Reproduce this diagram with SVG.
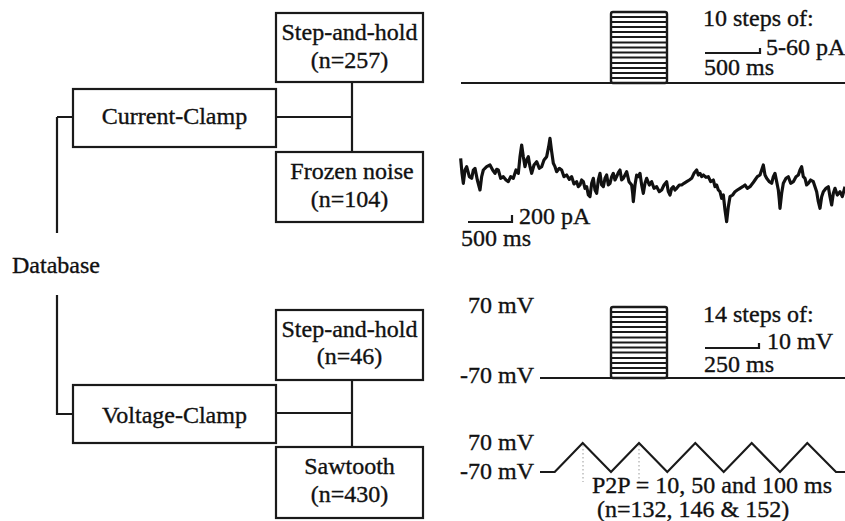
<svg xmlns="http://www.w3.org/2000/svg" width="845" height="521" viewBox="0 0 845 521">
<style>
  .box{fill:#fff;stroke:#1a1a1a;stroke-width:2.2}
  .ln{fill:none;stroke:#1a1a1a;stroke-width:2.2}
  .t{font-family:"Liberation Serif","Times New Roman",serif;font-size:24px;fill:#111;stroke:#111;stroke-width:0.35}
  .c{text-anchor:middle}
  .st{stroke:#1a1a1a;stroke-width:1.9}
</style>
<rect width="845" height="521" fill="#fff"/>
<g id="connectors" class="ln">
  <path d="M57,117 H73 M57,117 V233"/>
  <path d="M57,295 V414 H73"/>
  <path d="M276,117 H352 M352,82 V152"/>
  <path d="M276,413 H352 M352,380 V447"/>
</g>
<g id="database"><text class="t" x="12" y="273">Database</text></g>
<g id="current-clamp"><rect class="box" x="73" y="89" width="203" height="58"/><text class="t c" x="174.5" y="124">Current-Clamp</text></g>
<g id="cc-step"><rect class="box" x="276" y="13" width="147" height="69"/><text class="t c" x="349.5" y="40">Step-and-hold</text><text class="t c" x="349.5" y="68">(n=257)</text></g>
<g id="cc-noise"><rect class="box" x="276" y="152" width="147" height="70"/><text class="t c" x="352" y="179">Frozen noise</text><text class="t c" x="349.5" y="207">(n=104)</text></g>
<g id="voltage-clamp"><rect class="box" x="73" y="385" width="203" height="58"/><text class="t c" x="174.5" y="423">Voltage-Clamp</text></g>
<g id="vc-step"><rect class="box" x="276" y="310" width="147" height="70"/><text class="t c" x="349.5" y="337">Step-and-hold</text><text class="t c" x="349.5" y="364">(n=46)</text></g>
<g id="vc-saw"><rect class="box" x="276" y="447" width="147" height="71"/><text class="t c" x="349.5" y="474">Sawtooth</text><text class="t c" x="349.5" y="502">(n=430)</text></g>

<g id="trace-cc-step">
  <path class="ln" d="M461,83 H845"/>
  <rect x="611" y="12" width="56" height="71" rx="2" fill="none" stroke="#1a1a1a" stroke-width="2.4"/>
  <path class="st" d="M611,17 H667 M611,22 H667 M611,27 H667 M611,32 H667 M611,37 H667 M611,42.5 H667 M611,47.5 H667 M611,52.5 H667 M611,57.5 H667 M611,63 H667 M611,68 H667 M611,73 H667 M611,78 H667"/>
  <text class="t" x="703" y="26">10 steps of:</text>
  <path class="ln" d="M705,53 H760 V48" stroke-width="1.6"/>
  <text class="t" x="766" y="55">5-60 pA</text>
  <text class="t" x="704" y="75">500 ms</text>
</g>
<g id="trace-cc-noise">
  <g transform="translate(440,120) scale(0.33333)">
  <path fill="none" stroke="#111" stroke-width="9.5" stroke-linejoin="round" d="M62,115 L66,160 L70,190 L75,150 L80,140 L88,170 L95,175 L100,150 L105,145 L112,180 L120,210 L125,170 L130,150 L140,140 L150,135 L158,150 L165,160 L170,148 L175,150 L182,175 L190,170 L198,180 L205,185 L212,170 L220,175 L228,150 L235,160 L240,110 L245,75 L250,110 L255,140 L260,120 L265,110 L270,140 L275,160 L282,135 L290,125 L298,145 L305,140 L312,120 L320,110 L326,80 L330,55 L335,95 L340,130 L345,140 L350,155 L358,145 L365,150 L372,170 L380,165 L388,178 L395,170 L402,192 L410,185 L415,200 L420,195 L425,180 L430,185 L435,205 L440,200 L445,225 L450,230 L455,190 L460,175 L465,210 L470,220 L475,180 L480,160 L485,195 L490,200 L495,175 L500,165 L505,195 L510,190 L515,170 L520,160 L525,180 L530,170 L535,158 L540,150 L545,180 L550,175 L555,165 L560,155 L567,185 L575,195 L578,220 L580,245 L585,195 L590,165 L595,170 L600,160 L605,195 L610,220 L615,190 L620,175 L628,195 L635,185 L642,205 L650,200 L658,215 L665,210 L672,195 L680,185 L685,215 L690,225 L695,205 L700,200 L705,210 L710,205 L718,195 L725,195 L732,190 L740,185 L748,180 L755,175 L762,160 L770,150 L775,165 L780,160 L785,170 L790,165 L798,172 L805,170 L812,185 L820,180 L825,200 L830,195 L835,210 L840,215 L845,235 L850,225 L855,270 L860,305 L865,260 L870,230 L878,225 L885,215 L892,210 L900,205 L908,200 L915,195 L922,205 L930,200 L938,190 L945,180 L952,170 L960,165 L965,150 L970,135 L975,165 L980,175 L988,185 L995,190 L1000,170 L1005,160 L1010,185 L1015,210 L1018,240 L1020,265 L1025,220 L1030,190 L1038,175 L1045,170 L1052,190 L1060,185 L1068,170 L1075,165 L1080,150 L1085,140 L1090,170 L1095,175 L1100,195 L1105,190 L1112,180 L1120,185 L1125,200 L1130,215 L1135,245 L1140,265 L1145,230 L1150,215 L1158,205 L1165,200 L1170,230 L1175,255 L1180,220 L1185,205 L1192,225 L1200,215 L1207,230 L1215,200"/>
  </g>
  <path class="ln" d="M468,222 H512 V215" stroke-width="1.6"/>
  <text class="t" x="519" y="224">200 pA</text>
  <text class="t" x="461" y="246">500 ms</text>
</g>
<g id="trace-vc-step">
  <text class="t" x="468" y="313">70 mV</text>
  <text class="t" x="460" y="383">-70 mV</text>
  <path class="ln" d="M540,378 H845"/>
  <rect x="611" y="307" width="56" height="71" rx="2" fill="none" stroke="#1a1a1a" stroke-width="2.4"/>
  <path class="st" d="M611,312 H667 M611,317 H667 M611,322 H667 M611,327 H667 M611,332 H667 M611,337.5 H667 M611,342.5 H667 M611,347.5 H667 M611,352.5 H667 M611,358 H667 M611,363 H667 M611,368 H667 M611,373 H667"/>
  <text class="t" x="703" y="322">14 steps of:</text>
  <path class="ln" d="M705,348 H759 V343" stroke-width="1.6"/>
  <text class="t" x="767" y="349">10 mV</text>
  <text class="t" x="704" y="372">250 ms</text>
</g>
<g id="trace-vc-saw">
  <text class="t" x="468" y="450">70 mV</text>
  <text class="t" x="460" y="479">-70 mV</text>
  <path class="ln" d="M540,472 H554.7 L582.7,443 L611,472 L639,443 L667.3,472 L695.3,443 L723.7,472 L751.7,443 L780,472 L807.3,443 L836,472 H845"/>
  <path d="M583,445 V482 M639,445 V482" stroke="#999" stroke-width="1" stroke-dasharray="1.5,2.5" fill="none"/>
  <text class="t" x="592" y="493">P2P = 10, 50 and 100 ms</text>
  <text class="t" x="597" y="517">(n=132, 146 &amp; 152)</text>
</g>
</svg>
